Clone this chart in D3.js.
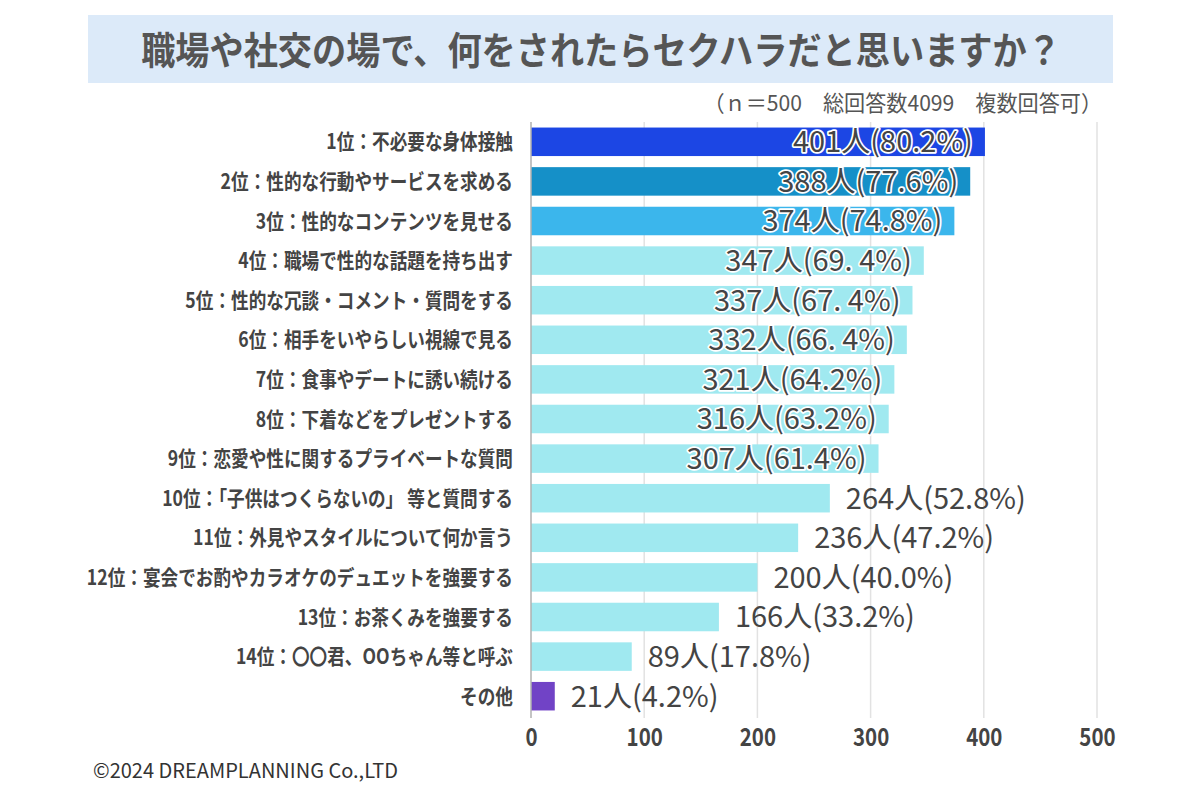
<!DOCTYPE html>
<html><head><meta charset="utf-8">
<script src="https://cdn.jsdelivr.net/npm/d3@7"></script>
<style>
body{margin:0;background:#fff;}
svg text{font-family:"Noto Sans CJK JP","Noto Sans",sans-serif;}
</style></head>
<body><svg id="c" width="1200" height="800"></svg>
<script>
const titleText = "職場や社交の場で、何をされたらセクハラだと思いますか？";
const subtitleText = "（ｎ＝500　総回答数4099　複数回答可）";
const creditText = "©2024 DREAMPLANNING Co.,LTD";
const categories = [
  "1位：不必要な身体接触",
  "2位：性的な行動やサービスを求める",
  "3位：性的なコンテンツを見せる",
  "4位：職場で性的な話題を持ち出す",
  "5位：性的な冗談・コメント・質問をする",
  "6位：相手をいやらしい視線で見る",
  "7位：食事やデートに誘い続ける",
  "8位：下着などをプレゼントする",
  "9位：恋愛や性に関するプライベートな質問",
  "10位：「子供はつくらないの」 等と質問する",
  "11位：外見やスタイルについて何か言う",
  "12位：宴会でお酌やカラオケのデュエットを強要する",
  "13位：お茶くみを強要する",
  "14位：〇〇君、OOちゃん等と呼ぶ",
  "その他"
];
const values = [401,388,374,347,337,332,321,316,307,264,236,200,166,89,21];
const valueLabels = ["401人(80.2%)","388人(77.6%)","374人(74.8%)","347人(69. 4%)","337人(67. 4%)","332人(66. 4%)","321人(64.2%)","316人(63.2%)","307人(61.4%)","264人(52.8%)","236人(47.2%)","200人(40.0%)","166人(33.2%)","89人(17.8%)","21人(4.2%)"];
const barColors = ["#1c46e4","#1590c8","#3bb6ec","#a0e9f0","#a0e9f0","#a0e9f0","#a0e9f0","#a0e9f0","#a0e9f0","#a0e9f0","#a0e9f0","#a0e9f0","#a0e9f0","#a0e9f0","#7143c6"];
const insideCount = 9;
const xTicks = [0,100,200,300,400,500];

const svg = d3.select("#c");
const x = d3.scaleLinear().domain([0,500]).range([531,1097]);
const y = d3.scaleBand().domain(categories).range([122,716]).paddingInner(0.28).paddingOuter(0.14);

// title box
svg.append("rect").attr("x",88).attr("y",15).attr("width",1025).attr("height",68).attr("fill","#dceaf9");
svg.append("text").attr("transform","translate(601,64) scale(0.9,1)").attr("text-anchor","middle")
  .attr("font-size",38).attr("font-weight",700).attr("fill","#555").text(titleText);
svg.append("text").attr("transform","translate(1102,111) scale(0.96,1)").attr("text-anchor","end")
  .attr("font-size",22).attr("fill","#555").text(subtitleText);

// grid
svg.append("g").selectAll("line").data(xTicks.slice(1)).join("line")
  .attr("x1",d=>x(d)).attr("x2",d=>x(d)).attr("y1",122).attr("y2",718)
  .attr("stroke","#e2e2e2").attr("stroke-width",1.5);

// bars
svg.append("g").selectAll("rect").data(values).join("rect")
  .attr("x",x(0)).attr("y",(d,i)=>y(categories[i]))
  .attr("width",d=>x(d)-x(0)).attr("height",y.bandwidth())
  .attr("fill",(d,i)=>barColors[i]);

// axis line
svg.append("line").attr("x1",x(0)).attr("x2",x(0)).attr("y1",122).attr("y2",718).attr("stroke","#b0b0b0").attr("stroke-width",1.5);

// category labels
svg.append("g").selectAll("text").data(categories).join("text")
  .attr("transform",d=>`translate(513,${y(d)+y.bandwidth()/2}) scale(0.84,1)`).attr("dy","0.36em")
  .attr("text-anchor","end").attr("font-size",21).attr("font-weight",700)
  .attr("fill","#444").text(d=>d);

// value labels
svg.append("g").selectAll("text").data(values).join("text")
  .attr("x",(d,i)=> i<insideCount ? x(d)-12 : x(d)+16)
  .attr("y",(d,i)=>y(categories[i])+y.bandwidth()/2).attr("dy","0.36em")
  .attr("text-anchor",(d,i)=> i<insideCount ? "end":"start")
  .attr("font-size",29).attr("fill","#444")
  .attr("stroke",(d,i)=> i<insideCount ? "#fff":"none").attr("stroke-width",3.5)
  .attr("paint-order","stroke").attr("stroke-linejoin","round")
  .text((d,i)=>valueLabels[i]);

// x axis labels
const ax = svg.append("g").attr("transform","translate(0,718)")
  .call(d3.axisBottom(x).tickValues(xTicks).tickSize(0).tickPadding(8));
ax.select(".domain").remove();
ax.selectAll("text").attr("font-size",25).attr("font-weight",700).attr("fill","#444")
  .attr("font-family","'Noto Sans CJK JP',sans-serif").attr("dy","0.8em")
  .attr("transform","scale(0.82,1)");

svg.append("text").attr("x",93).attr("y",778).attr("font-size",20).attr("fill","#333").text(creditText);
</script></body></html>
